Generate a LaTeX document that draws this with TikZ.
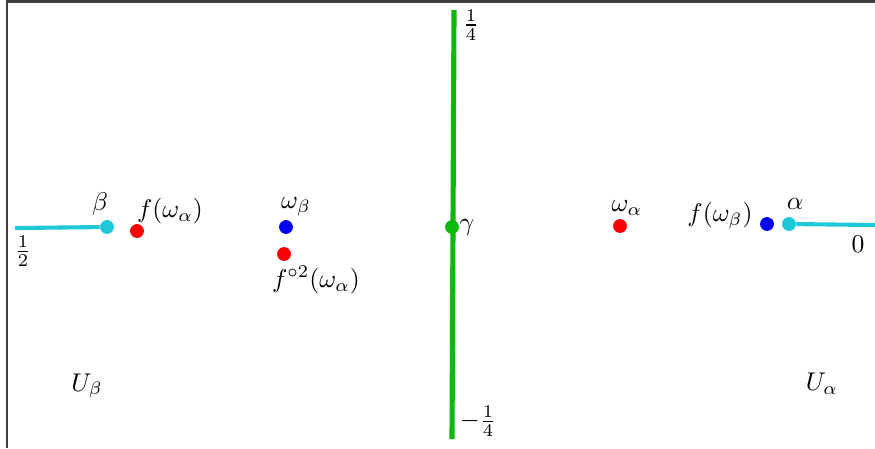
\documentclass[tikz,border=0pt]{standalone}
\usepackage{amsmath}
\definecolor{grn}{RGB}{10,185,10}
\definecolor{cyn}{RGB}{30,200,215}
\definecolor{rd}{RGB}{250,0,0}
\definecolor{bl}{RGB}{0,0,245}
\begin{document}
\begin{tikzpicture}[x=0.39pt,y=-0.39pt,
  dot/.style={circle,inner sep=0pt,minimum size=5.4pt},
  lbl/.style={inner sep=0pt},
  frame/.style={draw=black!75,line width=0.8pt}]
\useasboundingbox (0,0) rectangle (875,448);
% frame
\coordinate (fbl) at (7,448);
\coordinate (ftl) at (7,1.5);
\coordinate (ftr) at (875,1.5);
\draw[frame] (fbl) -- (ftl) -- (ftr);
% green line
\coordinate (gt) at (454,10);
\coordinate (gb) at (452,439);
\draw[grn,line width=2pt] (gt) -- (gb);
\node[dot,fill=grn] (gamma) at (452,227) {};
\node[lbl,anchor=west] (gl) at (459,227) {$\gamma$};
\node[lbl] (q) at (471,25) {$\frac{1}{4}$};
\node[lbl] (mq) at (478,421) {$-\frac{1}{4}$};
% cyan lines
\node[dot,fill=cyn] (beta) at (107,227) {};
\coordinate (cl) at (15,228);
\draw[cyn,line width=1.6pt] (cl) -- (beta);
\node[dot,fill=cyn] (alpha) at (789,224) {};
\coordinate (cr) at (875,225);
\draw[cyn,line width=1.6pt] (alpha) -- (cr);
\node[lbl] (bl) at (100,204) {$\beta$};
\node[lbl] (al) at (795,204) {$\alpha$};
\node[lbl] (half) at (23,251) {$\frac{1}{2}$};
\node[lbl] (zero) at (858,244) {$0$};
% points
\node[dot,fill=rd] (fwa) at (137,231) {};
\node[lbl] (fwal) at (170,211) {$f(\omega_\alpha)$};
\node[dot,fill=bl] (wb) at (286,227) {};
\node[lbl] (wbl) at (296,207) {$\omega_\beta$};
\node[dot,fill=rd] (f2) at (284,254) {};
\node[lbl] (f2l) at (316,280) {$f^{\circ 2}(\omega_\alpha)$};
\node[dot,fill=rd] (wa) at (620,226) {};
\node[lbl] (wal) at (627,208) {$\omega_\alpha$};
\node[dot,fill=bl] (fwb) at (767,224) {};
\node[lbl] (fwbl) at (720,216) {$f(\omega_\beta)$};
\node[lbl] (Ub) at (87,386) {$U_\beta$};
\node[lbl] (Ua) at (822,384) {$U_\alpha$};
\end{tikzpicture}
\end{document}
